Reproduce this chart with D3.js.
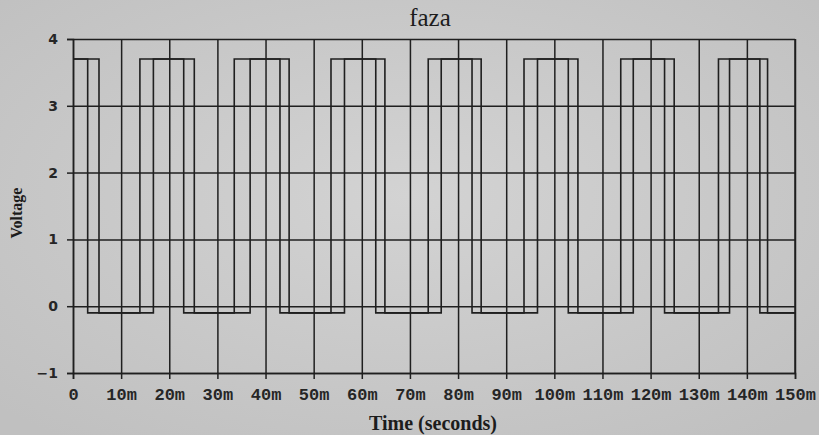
<!DOCTYPE html>
<html>
<head>
<meta charset="utf-8">
<script src="https://cdn.jsdelivr.net/npm/d3@7/dist/d3.min.js"></script>
<style>
  body { margin: 0; background: #cacaca; }
  svg { display: block; }
</style>
</head>
<body>
<script>
//waveform data (times in ms, levels in volts)
var highLevel = 3.7,
    lowLevel = -0.1;

//phase A: the wider pulse in each group
var riseA = [0, 13.9, 33.5, 53.6, 73.8, 93.7, 113.8, 134.1];
var fallA = [5.4, 25.2, 44.9, 64.8, 84.8, 104.9, 124.9, 144.3];

//phase B: the narrower pulse inside A
var riseB = [0, 16.7, 36.8, 56.4, 76.5, 96.5, 116.4, 136.4];
var fallB = [3.05, 23.0, 43.0, 62.9, 82.9, 102.9, 122.9, 142.7];

//axis ticks
var xTicks = [0, 10, 20, 30, 40, 50, 60, 70, 80, 90, 100, 110, 120, 130, 140, 150];
var yTicks = [-1, 0, 1, 2, 3, 4];

window.onload = drawChart();

function drawChart(){

    var width = 819,
        height = 435;
    var margin = {top: 39, right: 24, bottom: 62, left: 73};
    var innerW = width - margin.left - margin.right,
        innerH = height - margin.top - margin.bottom;

    var svg = d3.select("body")
        .append("svg")
        .attr("width", width)
        .attr("height", height);

    //paper background
    var grad = svg.append("defs").append("radialGradient")
        .attr("id", "paper")
        .attr("cx", "50%").attr("cy", "45%").attr("r", "70%");
    grad.append("stop").attr("offset", "0%").attr("stop-color", "#d3d3d3");
    grad.append("stop").attr("offset", "100%").attr("stop-color", "#c0c0c0");
    svg.append("rect")
        .attr("width", width)
        .attr("height", height)
        .attr("fill", "url(#paper)");

    var g = svg.append("g")
        .attr("transform", "translate(" + margin.left + "," + margin.top + ")");

    var x = d3.scaleLinear().domain([0, 150]).range([0, innerW]);
    var y = d3.scaleLinear().domain([-1, 4]).range([innerH, 0]);

    var ink = "#1f1f1f";

    //grid lines
    g.append("g")
        .attr("class", "grid")
        .attr("transform", "translate(0," + innerH + ")")
        .call(d3.axisBottom(x).tickValues(xTicks).tickSize(-innerH).tickFormat(""));
    g.append("g")
        .attr("class", "grid")
        .call(d3.axisLeft(y).tickValues(yTicks).tickSize(-innerW).tickFormat(""));

    //outer ticks and labels
    var xAxis = g.append("g")
        .attr("class", "axis")
        .attr("transform", "translate(0," + innerH + ")")
        .call(d3.axisBottom(x).tickValues(xTicks).tickSize(6).tickPadding(9)
            .tickFormat(function(d){ return d === 0 ? "0" : d + "m"; }));
    xAxis.selectAll("text")
        .attr("font-family", "'Liberation Mono', 'DejaVu Sans Mono', monospace")
        .attr("font-weight", "bold")
        .attr("font-size", 17);

    var yAxis = g.append("g")
        .attr("class", "axis")
        .call(d3.axisLeft(y).tickValues(yTicks).tickSize(6).tickPadding(9)
            .tickFormat(function(d){ return d < 0 ? "\u2212" + (-d) : d; }));
    yAxis.selectAll("text")
        .attr("font-family", "'DejaVu Sans', sans-serif")
        .attr("font-weight", "bold")
        .attr("font-size", 14);

    svg.selectAll(".grid line, .axis line")
        .attr("stroke", ink)
        .attr("stroke-width", 1.5);
    svg.selectAll(".grid .domain").remove();
    svg.selectAll(".axis .domain")
        .attr("stroke", ink)
        .attr("stroke-width", 1.5);
    svg.selectAll(".axis text").attr("fill", "#262626");

    //plot frame (right edge)
    g.append("line")
        .attr("x1", x(150)).attr("x2", x(150))
        .attr("y1", 0).attr("y2", innerH)
        .attr("stroke", ink).attr("stroke-width", 1.5);

    //turn rise/fall times into a stepped trace
    function trace(rises, falls){
        var pts = [];
        rises.forEach(function(r, i){
            pts.push([r, lowLevel]);
            pts.push([r, highLevel]);
            pts.push([falls[i], highLevel]);
            pts.push([falls[i], lowLevel]);
        });
        pts.push([150, lowLevel]);
        return pts.slice(1);
    }

    var line = d3.line()
        .x(function(d){ return x(d[0]); })
        .y(function(d){ return y(d[1]); });

    g.selectAll(".wave")
        .data([trace(riseA, fallA), trace(riseB, fallB)])
        .enter()
        .append("path")
        .attr("class", "wave")
        .attr("d", line)
        .attr("fill", "none")
        .attr("stroke", ink)
        .attr("stroke-width", 1.6);

    //title and axis titles
    svg.append("text")
        .attr("x", 430).attr("y", 26)
        .attr("text-anchor", "middle")
        .attr("font-family", "'Liberation Serif', serif")
        .attr("font-size", 25)
        .attr("fill", "#1c1c1c")
        .text("faza");

    svg.append("text")
        .attr("transform", "translate(22," + (margin.top + innerH / 2 + 7) + ") rotate(-90)")
        .attr("text-anchor", "middle")
        .attr("font-family", "'Liberation Serif', serif")
        .attr("font-weight", "bold")
        .attr("font-size", 16)
        .attr("fill", "#1c1c1c")
        .text("Voltage");

    svg.append("text")
        .attr("x", 433).attr("y", 430)
        .attr("text-anchor", "middle")
        .attr("font-family", "'Liberation Serif', serif")
        .attr("font-weight", "bold")
        .attr("font-size", 20)
        .attr("fill", "#1c1c1c")
        .text("Time (seconds)");
}
</script>
</body>
</html>
